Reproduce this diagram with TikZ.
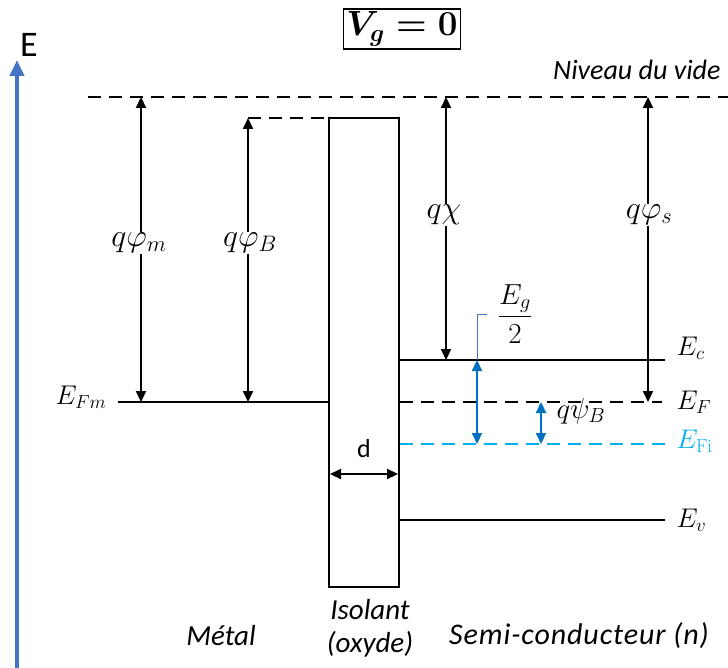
\RequirePackage{fix-cm}
\documentclass[tikz,border=0pt]{standalone}
\usepackage{amsmath}
\usepackage{fontspec}
\setsansfont{Carlito}
\usetikzlibrary{arrows.meta}
\definecolor{axisblue}{HTML}{4472C4}
\definecolor{arrblue}{HTML}{0070C0}
\definecolor{fermicyan}{HTML}{00B0F0}
\begin{document}
\begin{tikzpicture}[x=1pt,y=-1pt,
  tip/.tip={Triangle[length=11pt,width=10pt]},
  dbl/.style={line width=2.2pt,tip-tip},
  lvl/.style={line width=2.5pt},
  dsh/.style={line width=2.5pt,dash pattern=on 13pt off 8pt},
  lab/.style={font=\fontsize{27}{30}\selectfont},
  wlab/.style={font=\fontsize{32}{36}\selectfont,fill=white,inner sep=1pt},
  txt/.style={font=\sffamily\itshape\fontsize{29}{33}\selectfont},
]
\useasboundingbox (0,0) rectangle (728,668);

% energy axis
\coordinate (axB) at (17,668);
\coordinate (axT) at (17,60);
\draw[axisblue,line width=4pt,-{Triangle[length=16pt,width=14pt]}] (axB) -- (axT);
\node[font=\sffamily\fontsize{36}{40}\selectfont] (E) at (29,45) {E};

% title
\node[draw,line width=1.6pt,inner sep=3pt,font=\fontsize{35}{40}\selectfont] (title) at (402,29) {$\boldsymbol{V_g=0}$};

% coordinates
\coordinate (vacL) at (88,97);
\coordinate (vacR) at (728,97);
\coordinate (oxTL) at (329,118);
\coordinate (oxBR) at (399,587);
\coordinate (efmL) at (118,402);
\coordinate (efmR) at (329,402);
\coordinate (efsL) at (400,402);
\coordinate (efsR) at (662,402);
\coordinate (ecL) at (400,360);
\coordinate (ecR) at (665,360);
\coordinate (efiL) at (400,444);
\coordinate (efiR) at (665,444);
\coordinate (evL) at (400,520);
\coordinate (evR) at (665,520);
\coordinate (bL) at (248,118);

% vacuum level
\draw[dsh] (vacL) -- (vacR);
\node[txt,font=\sffamily\itshape\fontsize{28}{32}\selectfont,anchor=east] (vide) at (724,70) {Niveau du vide};

% oxide
\draw[line width=2.2pt] (oxTL) rectangle (oxBR);
\draw[dsh] (bL) -- (oxTL);

% metal Fermi level
\draw[lvl] (efmL) -- (efmR);
\node[lab,anchor=east] (EFm) at (110,397) {$E_{Fm}$};

% semiconductor levels
\draw[lvl] (ecL) -- (ecR);
\draw[dsh] (efsL) -- (efsR);
\draw[dsh,fermicyan] (efiL) -- (efiR);
\draw[lvl] (evL) -- (evR);
\node[lab,anchor=west] (Ec) at (673,348) {$E_c$};
\node[lab,anchor=west] (EF) at (673,402) {$E_F$};
\node[lab,anchor=west,text=fermicyan] (EFi) at (673,441) {$E_{\mathrm{Fi}}$};
\node[lab,anchor=west] (Ev) at (673,520) {$E_v$};

% work functions and affinities
\coordinate (m1) at (141,97);  \coordinate (m2) at (141,402);
\coordinate (b1) at (248,118); \coordinate (b2) at (248,402);
\coordinate (c1) at (446,97);  \coordinate (c2) at (446,360);
\coordinate (s1) at (648,97);  \coordinate (s2) at (648,402);
\draw[dbl] (m1) -- (m2);
\draw[dbl] (b1) -- (b2);
\draw[dbl] (c1) -- (c2);
\draw[dbl] (s1) -- (s2);
\node[wlab] (qpm) at (139,243) {$q\varphi_m$};
\node[wlab] (qpb) at (250,243) {$q\varphi_B$};
\node[wlab] (qchi) at (444,215) {$q\chi$};
\node[wlab] (qps) at (649,215) {$q\varphi_s$};

% band gap half and psi_B
\coordinate (g1) at (477,360); \coordinate (g2) at (477,444);
\coordinate (p1) at (541,402); \coordinate (p2) at (541,444);
\coordinate (gk) at (477,314); \coordinate (gkR) at (487,314);
\draw[axisblue,line width=1pt] (g1) -- (gk) -- (gkR);
\draw[arrblue,dbl] (g1) -- (g2);
\draw[arrblue,dbl] (p1) -- (p2);
\node[font=\fontsize{29}{32}\selectfont] (eg) at (515,314) {$\dfrac{E_g}{2}$};
\node[font=\fontsize{29}{32}\selectfont,anchor=west] (qpsi) at (553,411) {$q\psi_B$};

% oxide thickness
\coordinate (d1) at (330,474); \coordinate (d2) at (398,474);
\draw[dbl] (d1) -- (d2);
\node[font=\sffamily\fontsize{26}{30}\selectfont] (d) at (364,449) {d};

% region labels
\node[txt] (metal) at (221,636) {Métal};
\node[txt,align=center] (iso) at (370,628) {Isolant\\(oxyde)};
\node[txt,font=\sffamily\itshape\fontsize{30}{33}\selectfont\addfontfeature{LetterSpace=3}] (sc) at (579,636) {Semi-conducteur (n)};
\end{tikzpicture}
\end{document}
